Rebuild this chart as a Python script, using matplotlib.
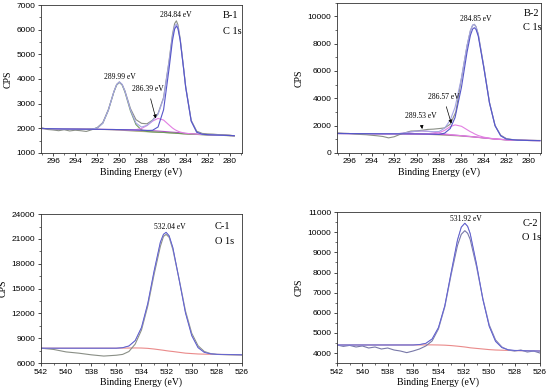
import numpy as np
import matplotlib.pyplot as plt
from matplotlib.ticker import MultipleLocator

# ---------------- B-1, C 1s ----------------
b1_raw_x = [297, 296.5, 296, 295.5, 295, 294.5, 294, 293.5, 293, 292.5, 292, 291.5, 291, 290.5, 290.25,
            290, 289.75, 289.5, 289, 288.5, 288, 287.5, 287, 286.5, 286, 285.5, 285.2, 285, 284.84,
            284.7, 284.5, 284.2, 284, 283.5, 283, 282.5, 282, 281.5, 281, 280.5, 280, 279.6]
b1_raw = [2010, 1950, 1930, 1900, 1940, 1890, 1920, 1900, 1870, 1940, 2030, 2230, 2760, 3480, 3780,
          3880, 3770, 3520, 2800, 2350, 2200, 2180, 2330, 2600, 3250, 4750, 5800, 6250, 6360,
          6200, 5650, 4500, 3700, 2320, 1880, 1790, 1770, 1760, 1740, 1730, 1720, 1690]
b1_x = [297, 296, 295, 294, 293, 292.5, 292, 291.5, 291, 290.5, 290.25, 290, 289.75, 289.5, 289,
        288.5, 288, 287.5, 287, 286.5, 286, 285.5, 285.2, 285, 284.84, 284.7, 284.5, 284.2, 284,
        283.5, 283, 282.5, 282, 281, 280, 279.6]
b1_bg = [1990, 1980, 1970, 1965, 1960, 1958, 1955, 1952, 1950, 1948, 1946, 1945, 1943, 1940, 1935,
         1928, 1920, 1910, 1900, 1885, 1870, 1850, 1840, 1835, 1830, 1825, 1815, 1800, 1790,
         1775, 1760, 1750, 1740, 1720, 1705, 1700]
b1_bg2 = [1990, 1980, 1970, 1965, 1960, 1958, 1955, 1950, 1945, 1935, 1930, 1925, 1918, 1910, 1895,
          1880, 1870, 1860, 1850, 1840, 1830, 1815, 1808, 1802, 1795, 1790, 1785, 1775, 1770,
          1760, 1750, 1740, 1730, 1715, 1700, 1695]
b1_p28999 = [1990, 1980, 1970, 1965, 1960, 1965, 2008, 2205, 2726, 3471, 3752, 3860, 3756, 3473, 2705,
             2149, 1927, 1868, 1850, 1840, 1830, 1815, 1808, 1802, 1795, 1790, 1785, 1775, 1770,
             1760, 1750, 1740, 1730, 1715, 1700, 1695]
b1_p28639 = [1990, 1980, 1970, 1965, 1960, 1958, 1955, 1952, 1950, 1948, 1946, 1945, 1943, 1940, 1938,
             1944, 1989, 2109, 2289, 2400, 2332, 2130, 2012, 1950, 1910, 1881, 1847, 1812, 1796,
             1775, 1760, 1750, 1740, 1720, 1705, 1700]
b1_p28484 = [1990, 1980, 1970, 1965, 1960, 1958, 1955, 1952, 1950, 1948, 1946, 1945, 1943, 1940, 1935,
             1928, 1920, 1910, 1917, 2051, 2749, 4430, 5547, 6026, 6150, 6046, 5583, 4461, 3664,
             2291, 1839, 1756, 1740, 1720, 1705, 1700]
b1_env = [1990, 1980, 1970, 1965, 1960, 1965, 2008, 2207, 2731, 3484, 3768, 3880, 3781, 3503, 2748,
          2213, 2046, 2117, 2306, 2566, 3211, 4710, 5719, 6141, 6230, 6102, 5615, 4473, 3670,
          2291, 1839, 1756, 1740, 1720, 1705, 1700]

# ---------------- B-2, C 1s ----------------
b2_raw_x = [297, 296.5, 296, 295.5, 295, 294.5, 294, 293.5, 293, 292.5, 292, 291.5, 291, 290.5, 290,
            289.5, 289, 288.5, 288, 287.5, 287, 286.5, 286, 285.5, 285.2, 285, 284.85, 284.7, 284.5,
            284, 283.5, 283, 282.5, 282, 281.5, 281, 280.5, 280, 279]
b2_raw = [1460, 1430, 1420, 1380, 1350, 1330, 1290, 1250, 1200, 1100, 1180, 1350, 1480, 1600, 1610,
          1660, 1720, 1740, 1780, 1830, 2100, 3000, 5450, 7850, 8950, 9350, 9420, 9250, 8700,
          6300, 3700, 2000, 1300, 1050, 980, 950, 930, 920, 910]
b2_x = [297, 296, 295, 294, 293, 292, 291.5, 291, 290.5, 290, 289.53, 289, 288.5, 288, 287.5, 287,
        286.57, 286, 285.5, 285.2, 285, 284.85, 284.7, 284.5, 284, 283.5, 283, 282.5, 282, 281, 280, 279]
b2_bg = [1420, 1415, 1410, 1405, 1400, 1398, 1396, 1394, 1392, 1390, 1385, 1380, 1370, 1355, 1340, 1320,
         1295, 1260, 1220, 1200, 1185, 1170, 1155, 1140, 1100, 1060, 1020, 990, 960, 930, 910, 900]
b2_bg2 = [1420, 1415, 1410, 1405, 1400, 1398, 1396, 1394, 1390, 1380, 1370, 1355, 1340, 1320, 1300, 1280,
          1260, 1230, 1200, 1180, 1170, 1160, 1145, 1130, 1090, 1050, 1010, 980, 950, 925, 905, 895]
b2_p28953 = [1420, 1415, 1410, 1405, 1400, 1400, 1420, 1470, 1540, 1590, 1605, 1580, 1520, 1450, 1390, 1340,
             1300, 1260, 1220, 1200, 1185, 1170, 1155, 1140, 1100, 1060, 1020, 990, 960, 930, 910, 900]
b2_p28657 = [1420, 1415, 1410, 1405, 1400, 1398, 1396, 1394, 1392, 1390, 1385, 1382, 1400, 1470, 1650, 1920,
             2050, 1950, 1700, 1550, 1475, 1400, 1345, 1270, 1150, 1075, 1025, 990, 960, 930, 910, 900]
b2_p28485 = [1420, 1415, 1410, 1405, 1400, 1398, 1396, 1394, 1392, 1390, 1385, 1380, 1370, 1355, 1444, 1782,
             2583, 4796, 7380, 8616, 9075, 9170, 9045, 8556, 6220, 3660, 1988, 1254, 1014, 930, 910, 900]
b2_env = [1420, 1415, 1410, 1405, 1400, 1398, 1420, 1470, 1540, 1590, 1605, 1580, 1550, 1565, 1804, 2402,
          3338, 5486, 7860, 8966, 9365, 9400, 9235, 8686, 6270, 3675, 1993, 1254, 1014, 930, 910, 900]

# ---------------- C-1, O 1s ----------------
c1_x = [542, 541, 540, 539, 538, 537, 536.5, 536, 535.5, 535, 534.5, 534, 533.5, 533, 532.5, 532.25,
        532.04, 531.8, 531.5, 531, 530.5, 530, 529.5, 529, 528.5, 528, 527, 526]
c1_raw = [7800, 7650, 7350, 7200, 7000, 6850, 6900, 6950, 7050, 7400, 8300, 10000, 12900, 16700, 20100, 21300,
          21550, 21200, 19700, 16100, 12300, 9600, 8100, 7400, 7150, 7050, 7000, 6980]
c1_bg = [7800, 7800, 7800, 7800, 7800, 7800, 7800, 7800, 7810, 7820, 7830, 7820, 7780, 7700, 7600, 7550,
         7500, 7450, 7400, 7300, 7200, 7150, 7100, 7080, 7065, 7050, 7030, 7000]
c1_fit = [7800, 7800, 7800, 7800, 7800, 7800, 7800, 7800, 7860, 8070, 8720, 10300, 13200, 17100, 20600, 21560,
          21800, 21380, 19930, 16050, 12070, 9320, 7870, 7295, 7120, 7060, 7030, 7000]

# ---------------- C-2, O 1s ----------------
c2_raw_x = [542, 541.5, 541, 540.5, 540, 539.5, 539, 538.5, 538, 537.5, 537, 536.5, 536, 535.5, 535, 534.5,
            534, 533.5, 533, 532.5, 532.2, 531.92, 531.7, 531.5, 531, 530.5, 530, 529.5, 529, 528.5,
            528, 527.5, 527, 526.5, 526]
c2_raw = [4400, 4330, 4380, 4300, 4350, 4250, 4300, 4200, 4250, 4150, 4100, 4020, 4100, 4200, 4350, 4600,
          5200, 6300, 7900, 9350, 9900, 10080, 9950, 9650, 8300, 6700, 5400, 4650, 4300, 4150,
          4100, 4150, 4050, 4100, 4000]
c2_x = [542, 541, 540, 539, 538, 537, 536.5, 536, 535.5, 535, 534.5, 534, 533.5, 533, 532.5, 532.2,
        531.92, 531.7, 531.5, 531, 530.5, 530, 529.5, 529, 528.5, 528, 527, 526]
c2_bg = [4400, 4400, 4400, 4400, 4400, 4400, 4400, 4400, 4400, 4405, 4405, 4400, 4390, 4370, 4340, 4320,
         4300, 4280, 4260, 4230, 4200, 4170, 4150, 4140, 4130, 4120, 4110, 4100]
c2_fit = [4400, 4400, 4400, 4400, 4400, 4400, 4400, 4400, 4420, 4480, 4700, 5265, 6350, 8000, 9620, 10255,
          10450, 10295, 9940, 8420, 6670, 5330, 4580, 4270, 4160, 4130, 4110, 4100]

C_RAW = "#8a8f86"
C_ENV = "#a6a6e6"
C_BLUE = "#5656c8"
C_MAG = "#e27fe2"
C_GRN = "#6f9a5e"
C_OLV = "#a8a880"
C_PUR = "#b050c8"
C_RED = "#ea8a8a"

serif = "Liberation Serif"
sans = "Liberation Sans"

fig = plt.figure(figsize=(5.5, 3.9), dpi=100)
ax1 = fig.add_axes([0.0745, 0.608, 0.3655, 0.379])
ax2 = fig.add_axes([0.6127, 0.608, 0.371, 0.385])
ax3 = fig.add_axes([0.0745, 0.069, 0.3655, 0.382])
ax4 = fig.add_axes([0.6127, 0.069, 0.369, 0.387])

lw = 0.8

# B-1
ax1.plot(b1_x, b1_bg2, color=C_OLV, lw=lw)
ax1.plot(b1_x, b1_bg, color=C_PUR, lw=lw)
ax1.plot(b1_x, b1_p28999, color=C_GRN, lw=lw)
ax1.plot(b1_x, b1_p28639, color=C_MAG, lw=lw)
ax1.plot(b1_raw_x, b1_raw, color=C_RAW, lw=lw)
ax1.plot(b1_x, b1_env, color=C_ENV, lw=lw)
ax1.plot(b1_x, b1_p28484, color=C_BLUE, lw=lw)
ax1.set_xlim(297.1, 278.9)
ax1.set_ylim(1000, 7000)
ax1.xaxis.set_major_locator(MultipleLocator(2))
ax1.xaxis.set_minor_locator(MultipleLocator(1))
ax1.yaxis.set_major_locator(MultipleLocator(1000))
ax1.yaxis.set_minor_locator(MultipleLocator(500))
ax1.text(284.9, 6580, "284.84 eV", family=serif, fontsize=5.5, ha="center", va="center")
ax1.text(290.0, 4060, "289.99 eV", family=serif, fontsize=5.5, ha="center", va="center")
ax1.annotate("286.39 eV", xy=(286.7, 2400), xytext=(287.4, 3580), family=serif, fontsize=5.5,
             ha="center", va="center",
             arrowprops=dict(arrowstyle="-|>", lw=0.5, color="k", mutation_scale=5, shrinkA=2, shrinkB=0))
ax1.text(0.905, 0.93, "B-1", transform=ax1.transAxes, family=serif, fontsize=7.5, va="center")
ax1.text(0.905, 0.82, "C 1s", transform=ax1.transAxes, family=serif, fontsize=7.5, va="center")

# B-2
ax2.plot(b2_x, b2_bg2, color=C_OLV, lw=lw)
ax2.plot(b2_x, b2_bg, color=C_PUR, lw=lw)
ax2.plot(b2_x, b2_p28953, color=C_MAG, lw=lw)
ax2.plot(b2_x, b2_p28657, color=C_MAG, lw=lw)
ax2.plot(b2_raw_x, b2_raw, color=C_RAW, lw=lw)
ax2.plot(b2_x, b2_env, color=C_ENV, lw=lw)
ax2.plot(b2_x, b2_p28485, color=C_BLUE, lw=lw)
ax2.set_xlim(297.1, 278.9)
ax2.set_ylim(0, 11000)
ax2.xaxis.set_major_locator(MultipleLocator(2))
ax2.xaxis.set_minor_locator(MultipleLocator(1))
ax2.yaxis.set_major_locator(MultipleLocator(2000))
ax2.yaxis.set_minor_locator(MultipleLocator(1000))
ax2.text(284.75, 9780, "284.85 eV", family=serif, fontsize=5.5, ha="center", va="center")
ax2.annotate("286.57 eV", xy=(286.9, 2150), xytext=(287.6, 4075), family=serif, fontsize=5.5,
             ha="center", va="center",
             arrowprops=dict(arrowstyle="-|>", lw=0.5, color="k", mutation_scale=5, shrinkA=2, shrinkB=0))
ax2.annotate("289.53 eV", xy=(289.5, 1750), xytext=(289.66, 2690), family=serif, fontsize=5.5,
             ha="center", va="center",
             arrowprops=dict(arrowstyle="-|>", lw=0.5, color="k", mutation_scale=5, shrinkA=2, shrinkB=0))
ax2.text(0.913, 0.93, "B-2", transform=ax2.transAxes, family=serif, fontsize=7.5, va="center")
ax2.text(0.913, 0.833, "C 1s", transform=ax2.transAxes, family=serif, fontsize=7.5, va="center")

# C-1
ax3.plot(c1_x, c1_bg, color=C_RED, lw=lw)
ax3.plot(c1_x, c1_raw, color=C_RAW, lw=lw)
ax3.plot(c1_x, c1_fit, color=C_ENV, lw=lw)
ax3.plot(c1_x, c1_fit, color=C_BLUE, lw=lw * 0.7)
ax3.set_xlim(542, 526)
ax3.set_ylim(6000, 24000)
ax3.xaxis.set_major_locator(MultipleLocator(2))
ax3.xaxis.set_minor_locator(MultipleLocator(1))
ax3.yaxis.set_major_locator(MultipleLocator(3000))
ax3.yaxis.set_minor_locator(MultipleLocator(1500))
ax3.text(531.74, 22430, "532.04 eV", family=serif, fontsize=5.5, ha="center", va="center")
ax3.text(0.865, 0.915, "C-1", transform=ax3.transAxes, family=serif, fontsize=7.5, va="center")
ax3.text(0.865, 0.814, "O 1s", transform=ax3.transAxes, family=serif, fontsize=7.5, va="center")

# C-2
ax4.plot(c2_x, c2_bg, color=C_RED, lw=lw)
ax4.plot(c2_raw_x, c2_raw, color="#7878a8", lw=lw)
ax4.plot(c2_x, c2_fit, color=C_ENV, lw=lw)
ax4.plot(c2_x, c2_fit, color=C_BLUE, lw=lw * 0.7)
ax4.set_xlim(542, 526)
ax4.set_ylim(3500, 11000)
ax4.xaxis.set_major_locator(MultipleLocator(2))
ax4.xaxis.set_minor_locator(MultipleLocator(1))
ax4.yaxis.set_major_locator(MultipleLocator(1000))
ax4.yaxis.set_minor_locator(MultipleLocator(500))
ax4.text(531.83, 10640, "531.92 eV", family=serif, fontsize=5.5, ha="center", va="center")
ax4.text(0.914, 0.925, "C-2", transform=ax4.transAxes, family=serif, fontsize=7.5, va="center")
ax4.text(0.914, 0.83, "O 1s", transform=ax4.transAxes, family=serif, fontsize=7.5, va="center")

for ax in (ax1, ax2, ax3, ax4):
    for s in ax.spines.values():
        s.set_linewidth(0.6)
        s.set_color("#333333")
    ax.tick_params(which="major", direction="out", length=2.5, width=0.5, labelsize=6, pad=1.5)
    ax.tick_params(which="minor", direction="out", length=1.5, width=0.4)
    for lab in ax.get_xticklabels() + ax.get_yticklabels():
        lab.set_family(sans)
    ax.set_xlabel("Binding Energy (eV)", family=serif, fontsize=7, labelpad=1.5)
    ax.set_ylabel("CPS", family=serif, fontsize=7, labelpad=3)

fig.savefig("out.png", dpi=100)
